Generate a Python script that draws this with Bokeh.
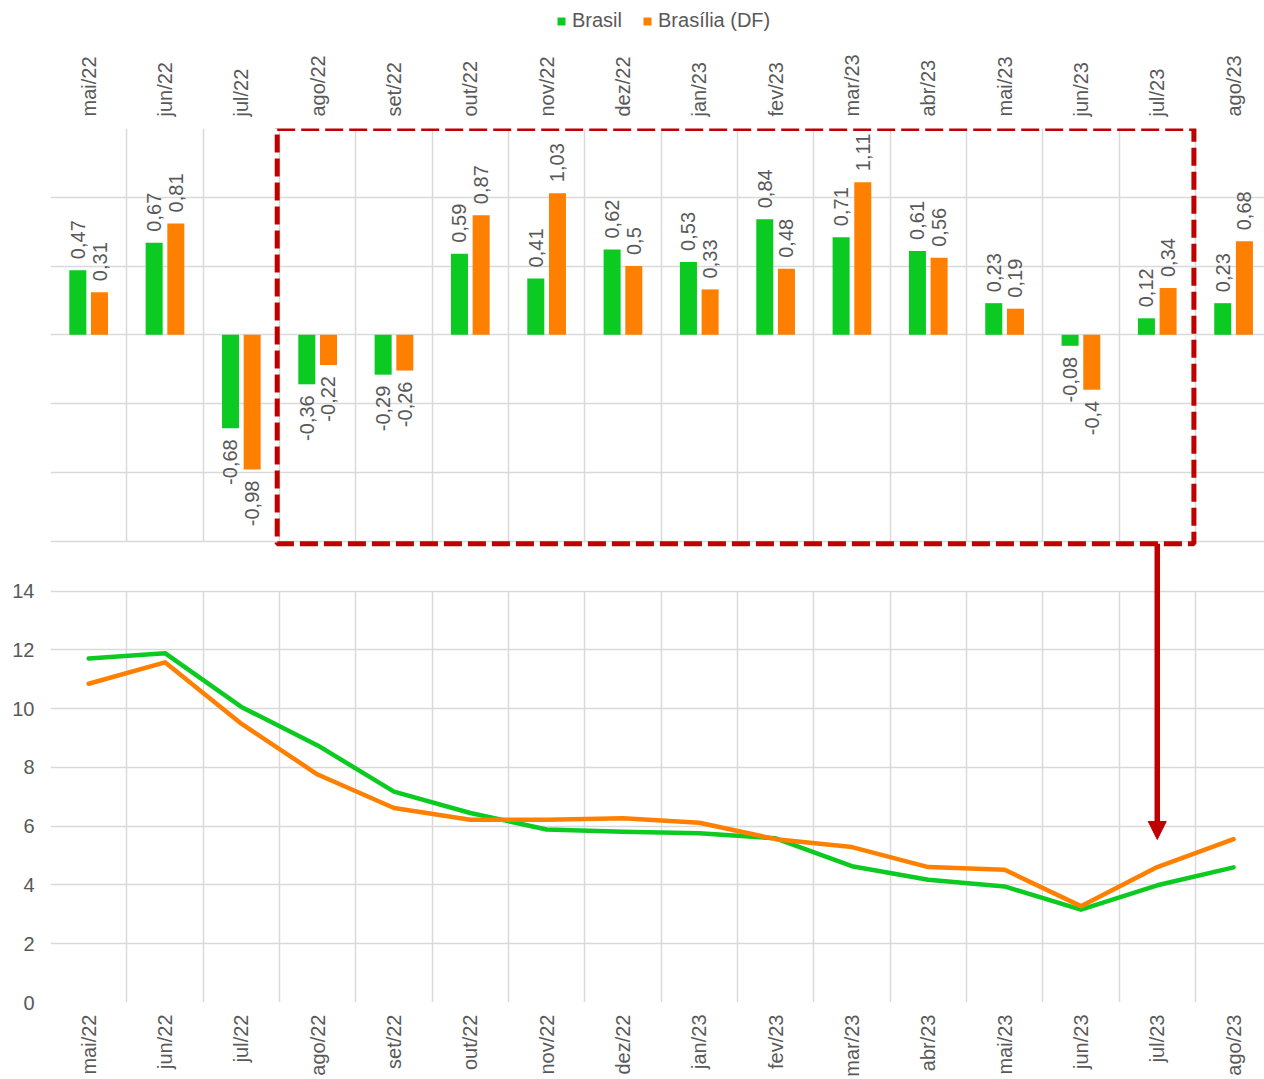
import math
from bokeh.plotting import figure
from bokeh.layouts import column
from bokeh.models import (Range1d, LinearAxis, FixedTicker, Grid, Legend, LegendItem,
                          BoxAnnotation, Arrow, NormalHead, ColumnDataSource)
from bokeh.embed import file_html
from bokeh.resources import INLINE
from bokeh.core.properties import value

# ---------------- data ----------------
months = ["mai/22", "jun/22", "jul/22", "ago/22", "set/22", "out/22", "nov/22", "dez/22",
          "jan/23", "fev/23", "mar/23", "abr/23", "mai/23", "jun/23", "jul/23", "ago/23"]
brasil_mensal = [0.47, 0.67, -0.68, -0.36, -0.29, 0.59, 0.41, 0.62,
                 0.53, 0.84, 0.71, 0.61, 0.23, -0.08, 0.12, 0.23]
df_mensal = [0.31, 0.81, -0.98, -0.22, -0.26, 0.87, 1.03, 0.5,
             0.33, 0.48, 1.11, 0.56, 0.19, -0.4, 0.34, 0.68]
brasil_12m = [11.71, 11.89, 10.06, 8.75, 7.18, 6.45, 5.89, 5.81,
              5.76, 5.59, 4.64, 4.18, 3.95, 3.16, 3.99, 4.60]
df_12m = [10.85, 11.58, 9.49, 7.76, 6.62, 6.22, 6.22, 6.27,
          6.12, 5.56, 5.29, 4.61, 4.52, 3.28, 4.61, 5.56]
series_names = ["Brasil", "Brasília (DF)"]
bar_ticks = [-1.5, -1.0, -0.5, 0.0, 0.5, 1.0, 1.5]
line_ticks = [0, 2, 4, 6, 8, 10, 12, 14]
highlight_first, highlight_last = "ago/22", "jul/23"

# ---------------- style ----------------
GREEN = "#0BCB22"
ORANGE = "#FF8000"
RED = "#C00000"
GRID = "#D9D9D9"
TXT = "#595959"
FONT = "Liberation Sans"
FS = "20px"

n = len(months)
centers = [i + 0.5 for i in range(n)]
off = 0.142
bw = 0.223

BARS = (-4.855, 1.5)
LINES = (0, 29.75)
W = 1264
LEG_H = 40
LEFT = 50

# ---------- legend strip ----------
pl = figure(width=W, height=LEG_H, x_range=Range1d(0, 1), y_range=Range1d(0, 1),
            output_backend="svg", toolbar_location=None,
            min_border_left=0, min_border_right=0, min_border_top=0, min_border_bottom=0)
pl.axis.visible = False
pl.grid.visible = False
pl.outline_line_color = None
# zero-height swatch carriers (nothing visible is drawn by them)
sw = ColumnDataSource(dict(x=[0.5], top=[0.0], bottom=[0.0]))
lg = pl.vbar(x="x", top="top", bottom="bottom", width=0.0, source=sw,
             fill_color=GREEN, line_color=None)
lo = pl.vbar(x="x", top="top", bottom="bottom", width=0.0, source=sw,
             fill_color=ORANGE, line_color=None)
legend = Legend(items=[LegendItem(label=series_names[0], renderers=[lg]),
                       LegendItem(label=series_names[1], renderers=[lo])],
                orientation="horizontal", location=(556 - LEFT, 8),
                glyph_width=10, glyph_height=10, label_standoff=6, spacing=20,
                label_height=20, padding=0, margin=0, border_line_color=None,
                background_fill_alpha=0,
                label_text_font=FONT, label_text_font_size=FS, label_text_color=TXT)
pl.add_layout(legend, "center")

# ---------- main chart ----------
p = figure(width=W, height=1079 - LEG_H,
           x_range=Range1d(0, 15.905), y_range=Range1d(*LINES),
           output_backend="svg", toolbar_location=None,
           min_border_left=LEFT, min_border_right=0,
           min_border_top=128 - LEG_H, min_border_bottom=74)
p.extra_y_ranges = {"bars": Range1d(*BARS)}
p.outline_line_color = None
p.xgrid.visible = False
p.ygrid.visible = False

# grids
p.add_layout(Grid(dimension=1, ticker=FixedTicker(ticks=line_ticks),
                  grid_line_color=GRID, grid_line_width=1.5))
p.add_layout(Grid(dimension=1, ticker=FixedTicker(ticks=bar_ticks), y_range_name="bars",
                  grid_line_color=GRID, grid_line_width=1.5))
vx = list(range(n + 1))
if "cross_bounds" in Grid.properties():
    p.add_layout(Grid(dimension=0, ticker=FixedTicker(ticks=vx), y_range_name="bars",
                      cross_bounds=(bar_ticks[0], bar_ticks[-1]),
                      grid_line_color=GRID, grid_line_width=1.5))
    p.add_layout(Grid(dimension=0, ticker=FixedTicker(ticks=vx),
                      cross_bounds=(line_ticks[0], line_ticks[-1]),
                      grid_line_color=GRID, grid_line_width=1.5))
else:
    p.segment(x0=vx, y0=[bar_ticks[0]] * len(vx), x1=vx, y1=[bar_ticks[-1]] * len(vx),
              y_range_name="bars", line_color=GRID, line_width=1.5, level="underlay")
    p.segment(x0=vx, y0=[line_ticks[0]] * len(vx), x1=vx, y1=[line_ticks[-1]] * len(vx),
              line_color=GRID, line_width=1.5, level="underlay")

# axes
labels = {c: m for c, m in zip(centers, months)}

def style_axis(ax):
    ax.axis_label = None
    ax.axis_line_color = None
    ax.major_tick_line_color = None
    ax.minor_tick_line_color = None
    ax.major_tick_out = 0
    ax.major_tick_in = 0
    ax.minor_tick_out = 0
    ax.minor_tick_in = 0
    ax.major_label_text_font = FONT
    ax.major_label_text_font_size = FS
    ax.major_label_text_color = TXT

xb = p.xaxis[0]
xb.ticker = FixedTicker(ticks=centers)
xb.major_label_overrides = labels
xb.major_label_orientation = math.pi / 2
xb.major_label_standoff = 12
style_axis(xb)

xt = LinearAxis(ticker=FixedTicker(ticks=centers), major_label_overrides=labels,
                major_label_orientation=math.pi / 2, major_label_standoff=12)
style_axis(xt)
p.add_layout(xt, "above")

yl = p.yaxis[0]
yl.ticker = FixedTicker(ticks=line_ticks)
yl.major_label_standoff = 16
style_axis(yl)

# bars
src = ColumnDataSource(dict(
    xg=[c - off for c in centers], xo=[c + off for c in centers],
    g=brasil_mensal, o=df_mensal))
p.vbar(x="xg", top="g", bottom=0, width=bw, source=src, y_range_name="bars",
       fill_color=GREEN, line_color=None)
p.vbar(x="xo", top="o", bottom=0, width=bw, source=src, y_range_name="bars",
       fill_color=ORANGE, line_color=None)

def fmt(v):
    return ("%g" % v).replace(".", ",")

for xs, vals in ((src.data["xg"], brasil_mensal), (src.data["xo"], df_mensal)):
    pos = [(x, v) for x, v in zip(xs, vals) if v >= 0]
    neg = [(x, v) for x, v in zip(xs, vals) if v < 0]
    if pos:
        p.text(x=[a for a, _ in pos], y=[b for _, b in pos], text=[fmt(b) for _, b in pos],
               angle=math.pi / 2, y_range_name="bars", text_align="left",
               text_baseline="middle", y_offset=-11,
               text_font=value(FONT), text_font_size=FS, text_color=TXT)
    if neg:
        p.text(x=[a for a, _ in neg], y=[b for _, b in neg], text=[fmt(b) for _, b in neg],
               angle=math.pi / 2, y_range_name="bars", text_align="right",
               text_baseline="middle", y_offset=11,
               text_font=value(FONT), text_font_size=FS, text_color=TXT)

# lines
p.line(x=centers, y=brasil_12m, line_color=GREEN, line_width=4.5,
       line_join="round", line_cap="round")
p.line(x=centers, y=df_12m, line_color=ORANGE, line_width=4.5,
       line_join="round", line_cap="round")

# highlight box + arrow
i0 = months.index(highlight_first)
i1 = months.index(highlight_last)
box_bottom = -1.52
p.add_layout(BoxAnnotation(left=i0 - 0.03, right=i1 + 0.98, top=1.5, bottom=box_bottom,
                           y_range_name="bars", fill_alpha=0, fill_color=None,
                           line_color=RED, line_alpha=1.0, line_width=5, line_dash="18 6"))
frac = (box_bottom - BARS[0]) / (BARS[1] - BARS[0])
arrow_start = LINES[0] + frac * (LINES[1] - LINES[0])
p.add_layout(Arrow(x_start=i1 + 0.5, y_start=arrow_start, x_end=i1 + 0.5, y_end=5.55,
                   line_color=RED, line_width=5.5,
                   end=NormalHead(size=18, fill_color=RED, line_color=RED)))

layout = column(pl, p, spacing=0)
open("out.html", "w").write(file_html(layout, INLINE))
